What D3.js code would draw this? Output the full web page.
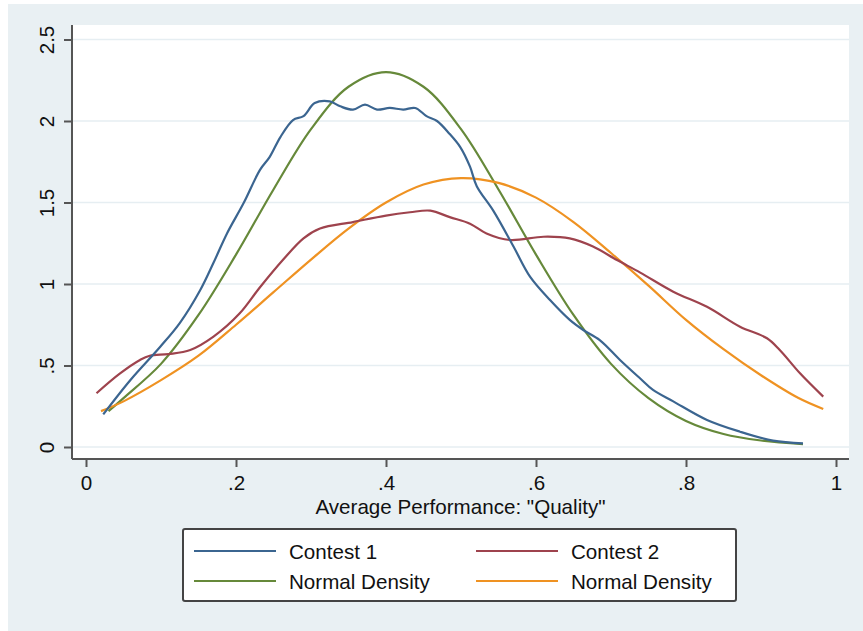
<!DOCTYPE html>
<html>
<head>
<meta charset="utf-8">
<script src="https://cdn.jsdelivr.net/npm/d3@7"></script>
<style>
  html, body { margin: 0; padding: 0; background: #fff; }
  svg text { font-family: "Liberation Sans", Arial, sans-serif; fill: #111; }
</style>
</head>
<body>
<svg id="chart"></svg>
<script>
// kernel density estimates, [quality, density]
const contest1 = [
  [0.023, 0.20], [0.059, 0.41], [0.099, 0.615], [0.125, 0.76], [0.152, 0.96],
  [0.17, 1.13], [0.188, 1.31], [0.21, 1.495], [0.232, 1.70], [0.245, 1.78],
  [0.259, 1.90], [0.276, 2.006], [0.29, 2.03], [0.305, 2.11], [0.325, 2.12],
  [0.339, 2.09], [0.356, 2.07], [0.372, 2.10], [0.388, 2.07], [0.405, 2.08],
  [0.423, 2.07], [0.439, 2.08], [0.454, 2.03], [0.468, 2.00], [0.485, 1.92],
  [0.499, 1.84], [0.512, 1.72], [0.521, 1.60], [0.543, 1.45], [0.57, 1.23],
  [0.592, 1.045], [0.619, 0.90], [0.645, 0.78], [0.663, 0.718], [0.685, 0.656],
  [0.712, 0.534], [0.739, 0.42], [0.756, 0.35], [0.783, 0.28], [0.828, 0.166],
  [0.872, 0.094], [0.916, 0.039], [0.956, 0.022]
];
const contest2 = [
  [0.014, 0.33], [0.045, 0.45], [0.072, 0.534], [0.085, 0.56], [0.11, 0.57],
  [0.139, 0.595], [0.17, 0.677], [0.205, 0.82], [0.232, 0.98], [0.263, 1.15],
  [0.29, 1.28], [0.312, 1.34], [0.356, 1.38], [0.4, 1.42], [0.432, 1.44],
  [0.459, 1.45], [0.485, 1.41], [0.512, 1.37], [0.534, 1.31], [0.565, 1.27],
  [0.61, 1.29], [0.645, 1.28], [0.676, 1.23], [0.708, 1.147], [0.739, 1.07],
  [0.783, 0.953], [0.828, 0.86], [0.872, 0.738], [0.908, 0.667], [0.925, 0.595],
  [0.952, 0.452], [0.983, 0.309]
];
// fitted normal densities, also
const normal1 = [
  [0.03, 0.22], [0.05, 0.30], [0.1, 0.51], [0.15, 0.81], [0.2, 1.18],
  [0.25, 1.58], [0.3, 1.95], [0.35, 2.21], [0.4, 2.30], [0.45, 2.21],
  [0.5, 1.95], [0.55, 1.58], [0.6, 1.18], [0.65, 0.81], [0.7, 0.51],
  [0.75, 0.30], [0.8, 0.16], [0.85, 0.08], [0.9, 0.04], [0.956, 0.018]
];
const normal2 = [
  [0.02, 0.22], [0.05, 0.28], [0.1, 0.41], [0.15, 0.56], [0.2, 0.75],
  [0.25, 0.95], [0.3, 1.15], [0.35, 1.34], [0.4, 1.50], [0.45, 1.61],
  [0.5, 1.65], [0.55, 1.62], [0.6, 1.53], [0.65, 1.38], [0.7, 1.19],
  [0.75, 0.99], [0.8, 0.78], [0.85, 0.60], [0.9, 0.44], [0.95, 0.30],
  [0.983, 0.233]
];

const xTicks = [0, 0.2, 0.4, 0.6, 0.8, 1];
const xTickLabels = ["0", ".2", ".4", ".6", ".8", "1"];
const yTicks = [0, 0.5, 1, 1.5, 2, 2.5];
const yTickLabels = ["0", ".5", "1", "1.5", "2", "2.5"];
const seriesNames = ["Contest 1", "Contest 2", "Normal Density", "Normal Density"];

const colors = ["#3b6590", "#9e434d", "#66893a", "#ef9222"];
const series = [contest1, contest2, normal1, normal2];

const width = 863, height = 631;
const plot = {left: 72, right: 849, top: 25, bottom: 459};
const fontSize = "20.6px";

const svg = d3.select("#chart")
  .attr("width", width)
  .attr("height", height);

// outer background
svg.append("rect")
  .attr("x", 8).attr("y", 4)
  .attr("width", width - 8).attr("height", height - 4)
  .attr("fill", "#e9f0f3");

svg.append("rect")
  .attr("x", plot.left).attr("y", plot.top)
  .attr("width", plot.right - plot.left).attr("height", plot.bottom - plot.top)
  .attr("fill", "#fff");

const x = d3.scaleLinear().domain([0, 1]).range([86, 836]);
const y = d3.scaleLinear().domain([0, 2.5]).range([447, 39.5]);

// gridlines
svg.append("g")
  .selectAll("line")
  .data(yTicks)
  .join("line")
  .attr("x1", plot.left).attr("x2", plot.right)
  .attr("y1", d => y(d)).attr("y2", d => y(d))
  .attr("stroke", "#e6eef2")
  .attr("stroke-width", 1.6);

// y axis
const yAxis = svg.append("g")
  .attr("transform", `translate(${plot.left},0)`)
  .call(d3.axisLeft(y).tickValues(yTicks).tickFormat((d, i) => yTickLabels[i]).tickSize(8).tickPadding(10));
yAxis.select(".domain").attr("d", `M0,${plot.top}V${plot.bottom}`);
yAxis.selectAll("text")
  .attr("transform", "rotate(-90)")
  .attr("x", 0).attr("y", -18)
  .attr("dy", 0)
  .attr("text-anchor", "middle")
  .style("font-size", fontSize);

// x axis
const xAxis = svg.append("g")
  .attr("transform", `translate(0,${plot.bottom})`)
  .call(d3.axisBottom(x).tickValues(xTicks).tickFormat((d, i) => xTickLabels[i]).tickSize(8).tickPadding(8));
xAxis.select(".domain").attr("d", `M${plot.left},0H${plot.right}`);
xAxis.selectAll("text")
  .attr("y", 31).attr("dy", 0)
  .style("font-size", fontSize);

svg.selectAll(".domain, .tick line")
  .attr("stroke", "#555")
  .attr("stroke-width", 2);

svg.append("text")
  .attr("x", (plot.left + plot.right) / 2)
  .attr("y", 514)
  .attr("text-anchor", "middle")
  .style("font-size", fontSize)
  .text('Average Performance: "Quality"');

// density lines
const line = d3.line()
  .x(d => x(d[0]))
  .y(d => y(d[1]))
  .curve(d3.curveCatmullRom);

// draw order: normal curves under the kernels where they cross
const order = [2, 3, 1, 0];
svg.append("g")
  .selectAll("path")
  .data(order)
  .join("path")
  .attr("d", i => line(series[i]))
  .attr("fill", "none")
  .attr("stroke", i => colors[i])
  .attr("stroke-width", 2.2);

// legend
const legend = svg.append("g");
legend.append("rect")
  .attr("x", 183).attr("y", 529)
  .attr("width", 553).attr("height", 72)
  .attr("rx", 2)
  .attr("fill", "#fff")
  .attr("stroke", "#444")
  .attr("stroke-width", 2);

const legendItems = [
  {i: 0, col: 0, row: 0}, {i: 1, col: 1, row: 0},
  {i: 2, col: 0, row: 1}, {i: 3, col: 1, row: 1}
];
const colX = [194, 476];
const rowY = [551, 581];

const items = legend.selectAll("g.item")
  .data(legendItems)
  .join("g")
  .attr("class", "item");
items.append("line")
  .attr("x1", d => colX[d.col]).attr("x2", d => colX[d.col] + 82)
  .attr("y1", d => rowY[d.row]).attr("y2", d => rowY[d.row])
  .attr("stroke", d => colors[d.i])
  .attr("stroke-width", 2);
items.append("text")
  .attr("x", d => colX[d.col] + 95)
  .attr("y", d => rowY[d.row] + 8)
  .style("font-size", fontSize)
  .text(d => seriesNames[d.i]);
</script>
</body>
</html>
